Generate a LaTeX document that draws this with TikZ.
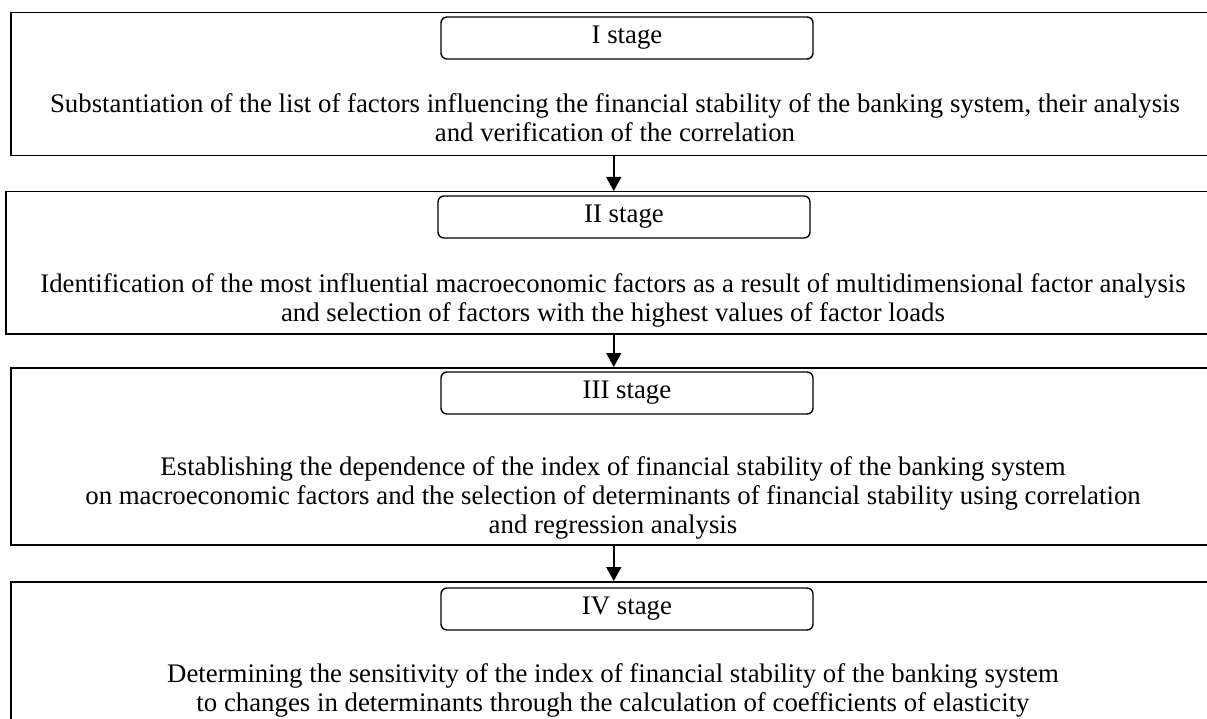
\documentclass[tikz,border=0pt]{standalone}
\usepackage{fontspec}
\setmainfont{Liberation Serif}
\usetikzlibrary{arrows.meta}
\begin{document}
\begin{tikzpicture}[x=1pt,y=-1pt,
  bigbox/.style={draw,line width=1.5pt,anchor=north west,inner sep=0pt},
  stagebox/.style={draw,line width=1.4pt,rounded corners=6pt,minimum width=372pt,minimum height=42pt,inner sep=0pt,font=\fontsize{26.8}{29}\selectfont},
  txt/.style={align=center,anchor=base,inner sep=0pt,font=\fontsize{26.8}{29}\selectfont},
  arr/.style={line width=1.5pt,-{Triangle[width=15pt,length=14pt]}}]
\useasboundingbox (0,0) rectangle (1207,719);
\clip (0,0) rectangle (1207,719);
% outer boxes
\node[bigbox,minimum width=1206pt,minimum height=143pt] (b1) at (10,12) {};
\node[bigbox,minimum width=1216pt,minimum height=142pt] (b2) at (5,191) {};
\node[bigbox,minimum width=1206pt,minimum height=177pt] (b3) at (10,367) {};
\node[bigbox,minimum width=1206pt,minimum height=160pt] (b4) at (10,581) {};
% stage labels
\node[stagebox] (s1) at (627,38) {I stage};
\node[stagebox] (s2) at (624,217) {II stage};
\node[stagebox] (s3) at (627,393) {III stage};
\node[stagebox] (s4) at (627,609) {IV stage};
% texts (anchored at the baseline of their last line)
\node[txt] (t1) at (615,142) {Substantiation of the list of factors influencing the financial stability of the banking system, their analysis\\and verification of the correlation};
\node[txt] (t2) at (613,321) {Identification of the most influential macroeconomic factors as a result of multidimensional factor analysis\\and selection of factors with the highest values of factor loads};
\node[txt] (t3) at (613,533) {Establishing the dependence of the index of financial stability of the banking system\\on macroeconomic factors and the selection of determinants of financial stability using correlation\\and regression analysis};
\node[txt] (t4) at (613,711) {Determining the sensitivity of the index of financial stability of the banking system\\to changes in determinants through the calculation of coefficients of elasticity};
% arrows
\draw[arr] (b1.south) -- (b2.north);
\draw[arr] (b2.south) -- (b3.north);
\draw[arr] (b3.south) -- (b4.north);
\end{tikzpicture}
\end{document}
